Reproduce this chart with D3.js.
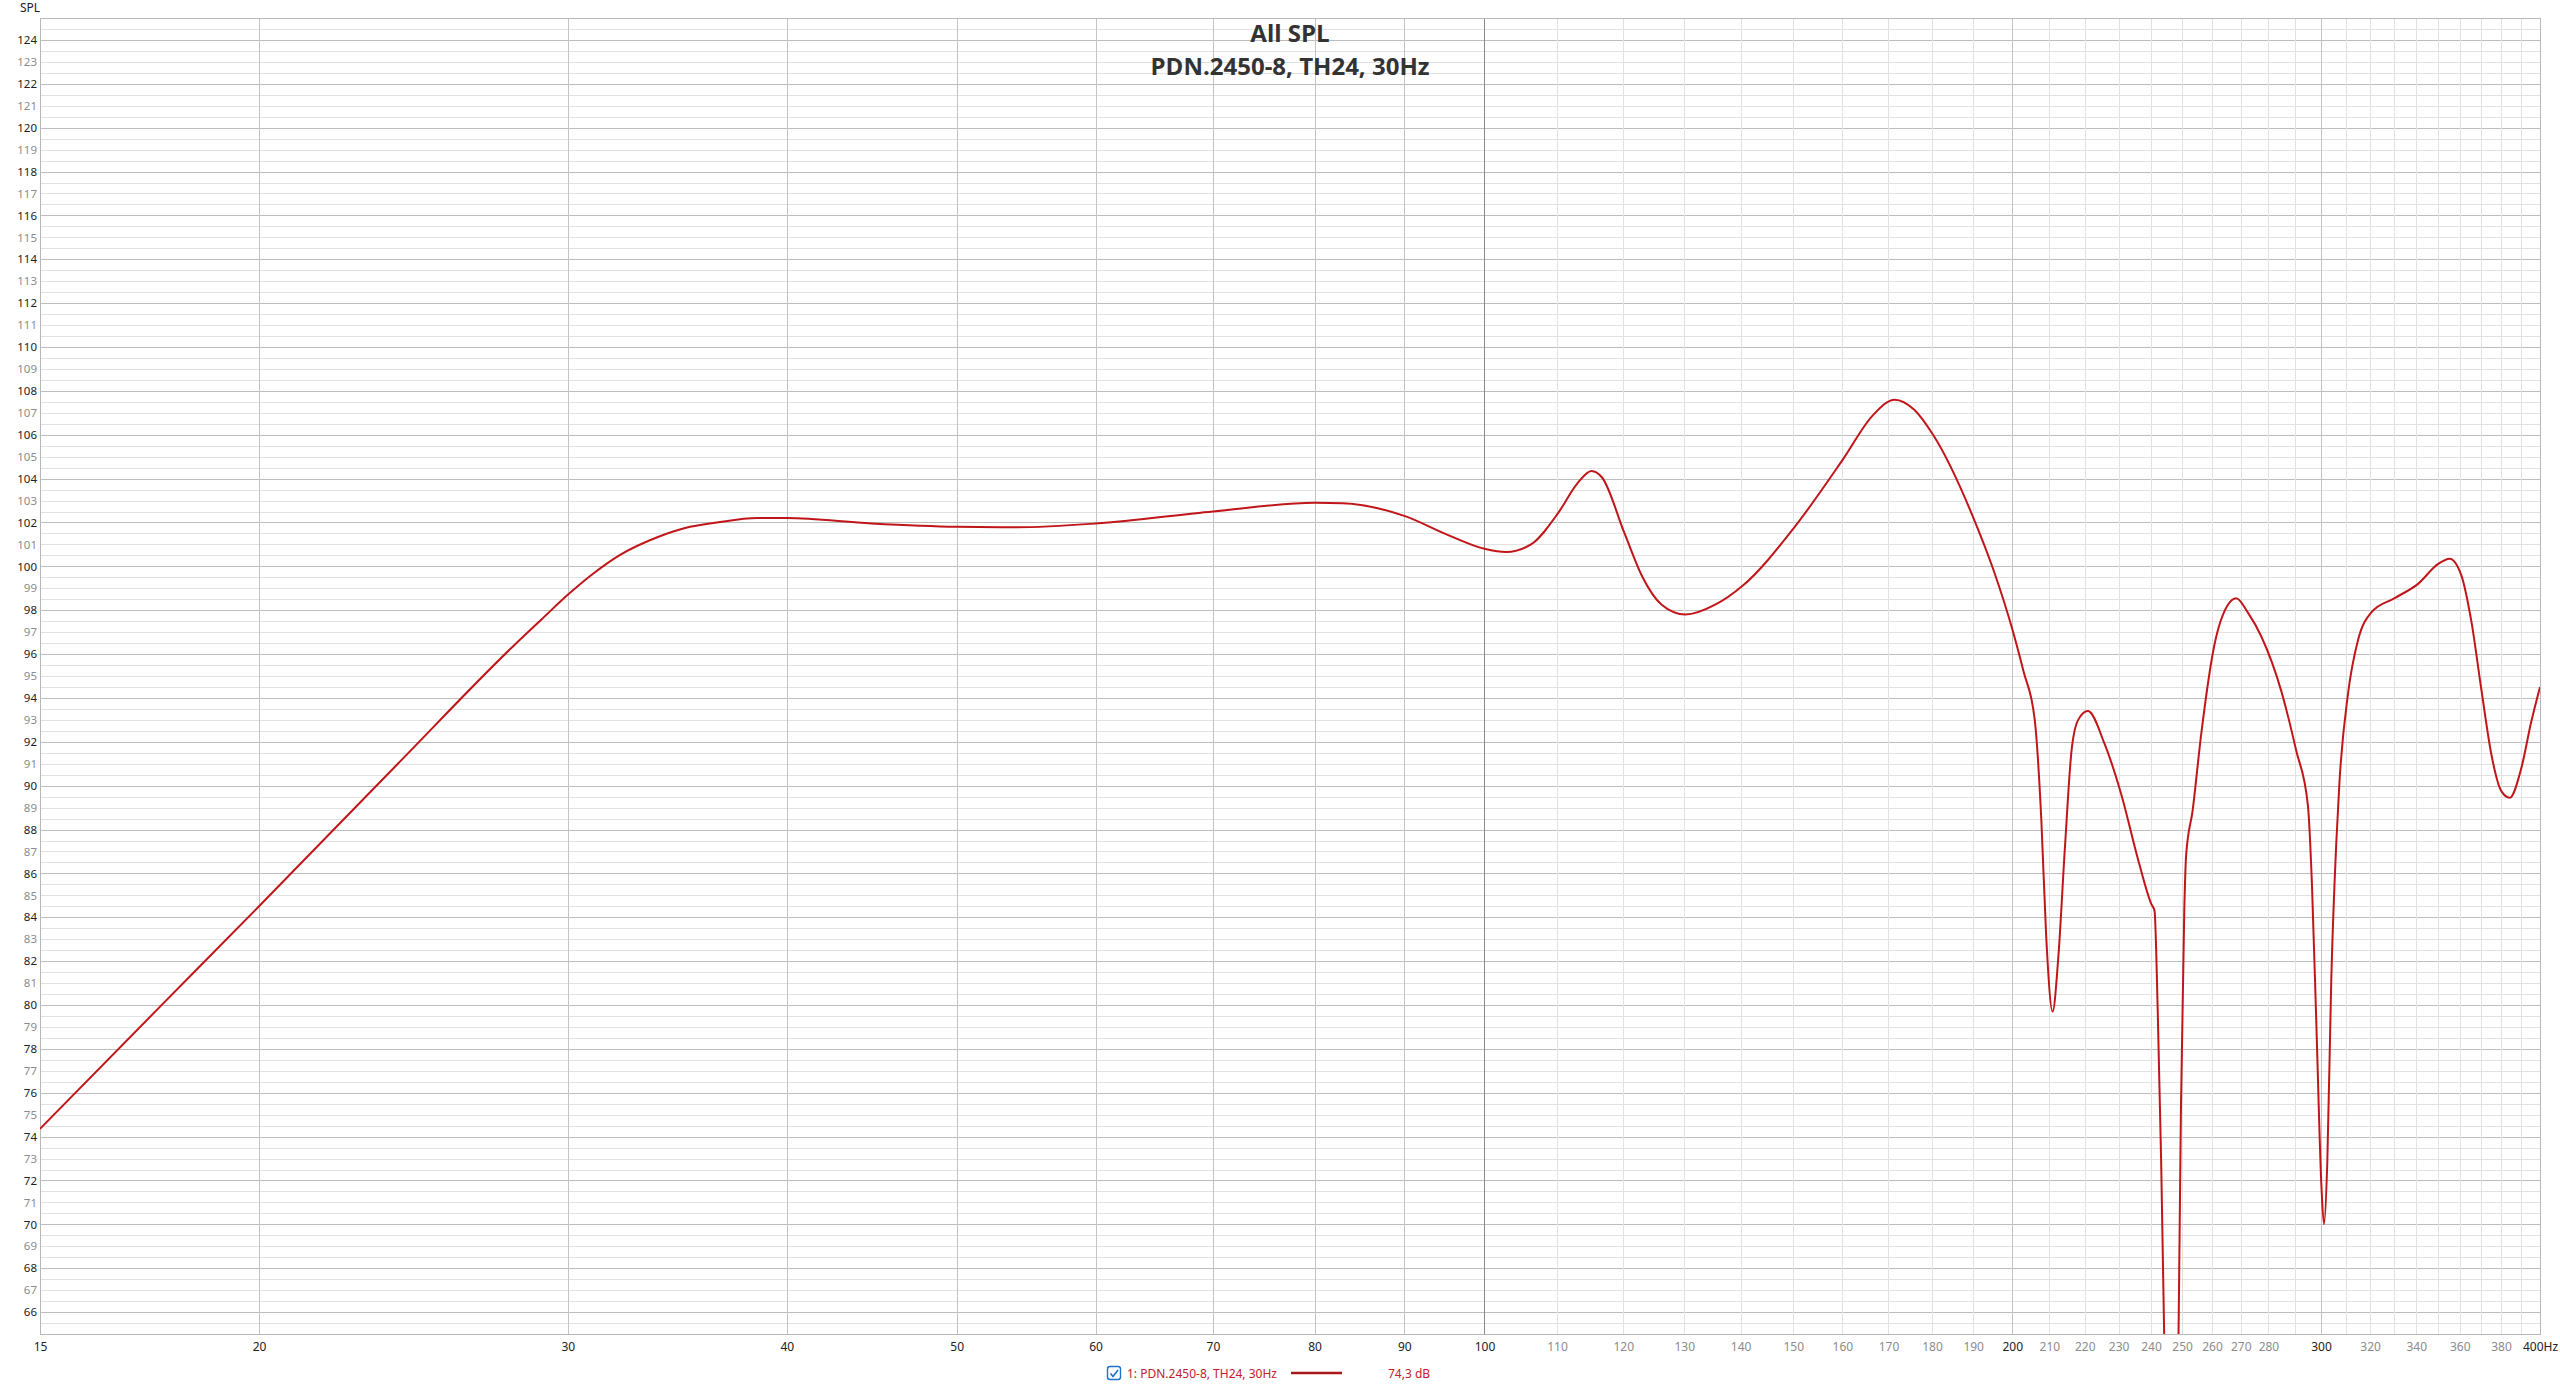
<!DOCTYPE html>
<html>
<head>
<meta charset="utf-8">
<script src="https://cdn.jsdelivr.net/npm/d3@7"></script>
<style>
  body { margin: 0; background: #fff; }
  svg { display: block; font-family: "Noto Sans", "Open Sans", sans-serif; }
</style>
</head>
<body>
<div id="chart"></div>
<script>
// Data (Hz, dB)
const freqs = [15, 17.5, 20, 24, 28, 29, 30, 31, 32.1, 33.8, 35, 36.5, 38.5, 40, 44.7, 50, 54, 60, 70, 80, 83, 90,
  95.5, 100, 102.9, 106.3, 110.2, 112.9, 115.1, 116.7, 120.2, 123, 126.2, 130.2, 135.4, 140.3, 150.3, 160.2, 166.4,
  171.4, 175.8, 180.4, 190.3, 195, 200.4, 203, 206, 207.8, 209.1, 210.9, 212.4, 214.3, 216.2, 218.1, 220.9, 225.8,
  230.8, 236, 240.1, 241.1, 242.1, 243.2, 244.2, 245.5, 246.5, 247.6, 248.8, 249.6, 250.7, 251.3, 253.5, 256.3,
  260.8, 265.5, 268.4, 272.5, 277.4, 284.8, 290.4, 294.9, 296.5, 298.2, 300.2, 301.2, 302.5, 304.1, 306.1, 307.4,
  310.8, 315, 320.5, 330.5, 340.8, 349.8, 355.2, 360.7, 365.5, 370.4, 375.3, 380.2, 384.4, 390.3, 395.4, 400];
const spl = [74.35, 79.8, 84.5, 91.0, 96.45, 97.6, 98.7, 99.65, 100.5, 101.35, 101.75, 102.0, 102.2, 102.2, 101.95, 101.8, 101.78, 101.95, 102.5, 102.9, 102.88, 102.3,
  101.4, 100.8, 100.65, 101.0, 102.45, 103.75, 104.35, 104.05, 101.5, 99.55, 98.25, 97.8, 98.25, 99.1, 101.8, 104.9, 106.85,
  107.6, 107.15, 105.95, 102.1, 99.9, 96.9, 95.2, 93.0, 88.4, 83.2, 79.7, 82.0, 87.1, 91.6, 93.0, 93.4, 91.9,
  89.6, 86.6, 84.6, 84.3, 79.8, 72.9, 64.7, 54, 50, 54, 64.7, 75.2, 84.3, 86.8, 88.9, 92.3,
  96.4, 98.25, 98.55, 97.9, 96.8, 94.3, 91.6, 89.1, 85.4, 79.1, 71.7, 70.0, 72.8, 81.2, 87.4, 90.2,
  94.15, 96.65, 97.9, 98.55, 99.2, 100.1, 100.35, 99.6, 97.5, 94.35, 91.4, 89.75, 89.45, 90.8, 92.9, 94.5];

// Tick labels
const xBlackTicks = [15, 20, 30, 40, 50, 60, 70, 80, 90, 100, 200, 300, 400];
const xGreyTicks = [110, 120, 130, 140, 150, 160, 170, 180, 190, 210, 220, 230, 240, 250, 260, 270, 280, 320, 340, 360, 380];
const yTicks = d3.range(66, 125);

const titleLines = ["All SPL", "PDN.2450-8, TH24, 30Hz"];
const legendName = "1: PDN.2450-8, TH24, 30Hz";
const legendValue = "74,3 dB";

const W = 2560, H = 1385;
const plot = { left: 40, top: 18, right: 2540, bottom: 1334 };

const svg = d3.select("#chart").append("svg")
  .attr("width", W).attr("height", H);

const x = d3.scaleLog().domain([15, 400]).range([plot.left, plot.right]);
const y = d3.scaleLinear().domain([65, 125]).range([plot.bottom, plot.top]);

// ---- horizontal grid (every 0.5 dB, even dB darker)
const hLines = d3.range(65.5, 125, 0.5);
svg.append("g")
  .selectAll("line")
  .data(hLines)
  .join("line")
  .attr("x1", plot.left).attr("x2", plot.right)
  .attr("y1", d => Math.round(y(d)) + 0.5).attr("y2", d => Math.round(y(d)) + 0.5)
  .attr("stroke", d => (d % 2 === 0 ? "#bdbdbd" : "#e2e2e2"))
  .attr("stroke-width", 1);

// ---- vertical grid
const vLines = d3.range(20, 100, 10).concat(d3.range(100, 400, 10));
svg.append("g")
  .selectAll("line")
  .data(vLines)
  .join("line")
  .attr("x1", d => Math.round(x(d)) + 0.5).attr("x2", d => Math.round(x(d)) + 0.5)
  .attr("y1", plot.top).attr("y2", plot.bottom)
  .attr("stroke", d => d === 100 ? "#8a8a8a" : (d < 100 || d === 200 || d === 300) ? "#c4c4c4" : "#e2e2e2")
  .attr("stroke-width", 1);

// plot frame
svg.append("rect")
  .attr("x", plot.left + 0.5).attr("y", plot.top + 0.5)
  .attr("width", plot.right - plot.left).attr("height", plot.bottom - plot.top)
  .attr("fill", "none").attr("stroke", "#b8b8b8");

// ---- y axis labels
svg.append("g")
  .attr("transform", `translate(${plot.left - 1},0)`)
  .call(d3.axisLeft(y).tickValues(yTicks).tickSize(0).tickPadding(2))
  .call(g => g.select(".domain").remove())
  .call(g => g.selectAll("text")
    .attr("font-size", 11.5)
    .attr("font-family", "Noto Sans")
    .attr("fill", d => d % 2 === 0 ? "#222" : "#8c8c8c"));

svg.append("text")
  .attr("x", 20).attr("y", 12)
  .attr("font-size", 12).attr("fill", "#222")
  .text("SPL");

// ---- x axis labels
const xAxisG = (ticks, color) => svg.append("g")
  .attr("transform", `translate(0,${plot.bottom})`)
  .call(d3.axisBottom(x).tickValues(ticks).tickSize(0).tickPadding(8)
    .tickFormat(d => d === 400 ? "400Hz" : d))
  .call(g => g.select(".domain").remove())
  .call(g => g.selectAll("text")
    .attr("font-size", 12)
    .attr("font-family", "Noto Sans")
    .attr("fill", color));
xAxisG(xBlackTicks, "#222");
xAxisG(xGreyTicks, "#8c8c8c");

// ---- title
svg.append("g")
  .selectAll("text")
  .data(titleLines)
  .join("text")
  .attr("x", (plot.left + plot.right) / 2)
  .attr("y", (d, i) => 42 + i * 33)
  .attr("text-anchor", "middle")
  .attr("font-family", "Open Sans")
  .attr("font-weight", "bold")
  .attr("font-size", 24)
  .attr("fill", "#333")
  .text(d => d);

// ---- the curve
svg.append("clipPath").attr("id", "plotclip")
  .append("rect")
  .attr("x", plot.left).attr("y", plot.top)
  .attr("width", plot.right - plot.left).attr("height", plot.bottom - plot.top);

const points = freqs.map((f, i) => [f, spl[i]]);
const line = d3.line()
  .x(d => x(d[0]))
  .y(d => y(d[1]))
  .curve(d3.curveMonotoneX);

svg.append("path")
  .datum(points)
  .attr("clip-path", "url(#plotclip)")
  .attr("fill", "none")
  .attr("stroke", "#c0161a")
  .attr("stroke-width", 2)
  .attr("stroke-linejoin", "round")
  .attr("d", line);

// ---- legend
const leg = svg.append("g").attr("transform", "translate(0,1373)");
leg.append("rect")
  .attr("x", 1107.5).attr("y", -6.5).attr("width", 13).attr("height", 13)
  .attr("rx", 2.5).attr("fill", "#fff").attr("stroke", "#1a73d1").attr("stroke-width", 1.4);
leg.append("path")
  .attr("d", "M1110.5,0.5 L1113,3.5 L1118,-3")
  .attr("fill", "none").attr("stroke", "#1a73d1").attr("stroke-width", 1.6);
leg.append("text")
  .attr("x", 1127).attr("y", 4.5)
  .attr("font-size", 12).attr("fill", "#c0202a")
  .text(legendName);
leg.append("line")
  .attr("x1", 1291).attr("x2", 1342).attr("y1", 0).attr("y2", 0)
  .attr("stroke", "#a81818").attr("stroke-width", 2.5);
leg.append("text")
  .attr("x", 1388).attr("y", 4.5)
  .attr("font-size", 12).attr("fill", "#c0202a")
  .text(legendValue);
</script>
</body>
</html>
